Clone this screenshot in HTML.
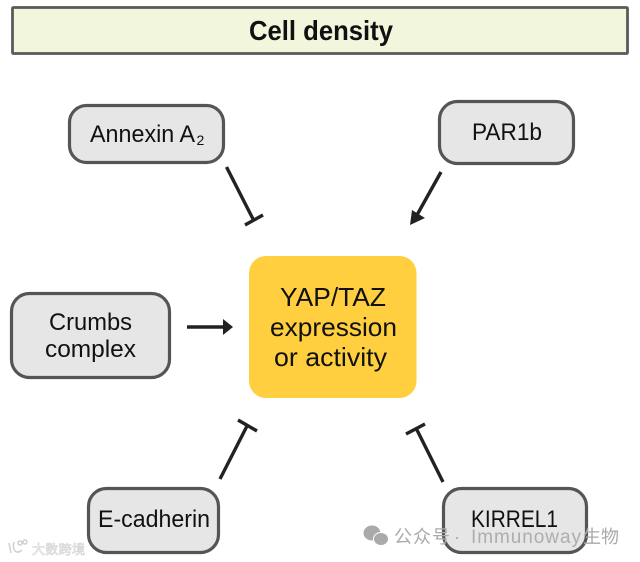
<!DOCTYPE html>
<html><head><meta charset="utf-8"><style>
html,body{margin:0;padding:0;background:#fff;width:640px;height:562px;overflow:hidden}
svg{display:block;filter:blur(.35px)}
text{font-family:"Liberation Sans","Noto Sans CJK SC",sans-serif;fill:#111}
.n{font-size:24px}
.box{fill:#e6e6e6;stroke:#555;stroke-width:3.2}
.l{stroke:#222;stroke-width:3.4;fill:none}
</style></head><body>
<svg width="640" height="562" viewBox="0 0 640 562" xmlns="http://www.w3.org/2000/svg">
<rect x="0" y="0" width="640" height="562" fill="#fff"/>
<rect x="12.5" y="7.5" width="615" height="46" fill="#f2f6dc" stroke="#5a5a5a" stroke-width="2.8" rx="1"/>
<text x="249" y="40" font-size="28" font-weight="bold" textLength="144" lengthAdjust="spacingAndGlyphs">Cell density</text>

<rect class="box" x="69.5" y="105.5" width="154" height="57" rx="17"/>
<text class="n" x="90" y="142" textLength="105" lengthAdjust="spacingAndGlyphs">Annexin A</text>
<text x="196.500" y="145" font-size="14">2</text>

<rect class="box" x="439.5" y="101.5" width="134" height="62" rx="18"/>
<text class="n" x="472" y="140" textLength="70" lengthAdjust="spacingAndGlyphs">PAR1b</text>

<rect class="box" x="11.5" y="293.5" width="158" height="84" rx="18"/>
<text class="n" x="49" y="330" textLength="83" lengthAdjust="spacingAndGlyphs">Crumbs</text>
<text class="n" x="45" y="357" textLength="91" lengthAdjust="spacingAndGlyphs">complex</text>

<rect x="249" y="256" width="167.500" height="142" rx="17" fill="#ffcf40"/>
<text x="280" y="306" font-size="26" textLength="106" lengthAdjust="spacingAndGlyphs">YAP/TAZ</text>
<text x="270" y="336" font-size="26" textLength="127" lengthAdjust="spacingAndGlyphs">expression</text>
<text x="274" y="366" font-size="26" textLength="113" lengthAdjust="spacingAndGlyphs">or activity</text>

<rect class="box" x="88.500" y="488.500" width="130" height="64" rx="18"/>
<text class="n" x="98" y="527" textLength="112" lengthAdjust="spacingAndGlyphs">E-cadherin</text>

<rect class="box" x="443.500" y="488.500" width="143" height="64" rx="18"/>
<text class="n" x="471" y="527" textLength="87" lengthAdjust="spacingAndGlyphs">KIRREL1</text>

<path class="l" d="M226.500 167L253 219M245 225L263 215"/>
<path class="l" d="M441 172L417 215"/>
<polygon points="410,225 412,210 425,218" fill="#222"/>
<path class="l" d="M187 327L225 327"/>
<polygon points="233,327 223,319 223,335" fill="#222"/>
<path class="l" d="M220 479L247 426M238 420L257 431"/>
<path class="l" d="M443 482L417 430M406 434L425 424"/>

<g fill="#aaa">
<ellipse cx="372" cy="533" rx="8.500" ry="7.500"/>
<ellipse cx="381" cy="539" rx="7.500" ry="6.500" stroke="#fff" stroke-width="1"/>
<text x="394" y="543" font-size="18" style="fill:#aaa" textLength="56" lengthAdjust="spacing">公众号</text>
<text x="454" y="543" font-size="18" style="fill:#aaa">·</text>
<text x="471" y="543" font-size="19" style="fill:#9a9a9a" fill-opacity=".75" textLength="110" lengthAdjust="spacing">Immunoway</text>
<text x="583" y="543" font-size="18" style="fill:#aaa" textLength="36" lengthAdjust="spacing">生物</text>
</g>

<g stroke="#d0d0d0" stroke-width="1.500" fill="none">
<path d="M9 543L11 553M14 542C12 550 16 555 22 550"/>
<circle cx="20" cy="543" r="2"/><circle cx="25" cy="542" r="2"/>
</g>
<text x="32" y="554" font-size="13" style="fill:#fff;stroke:#d0d0d0;stroke-width:.6" textLength="53" lengthAdjust="spacing">大数跨境</text>
</svg>
</body></html>
